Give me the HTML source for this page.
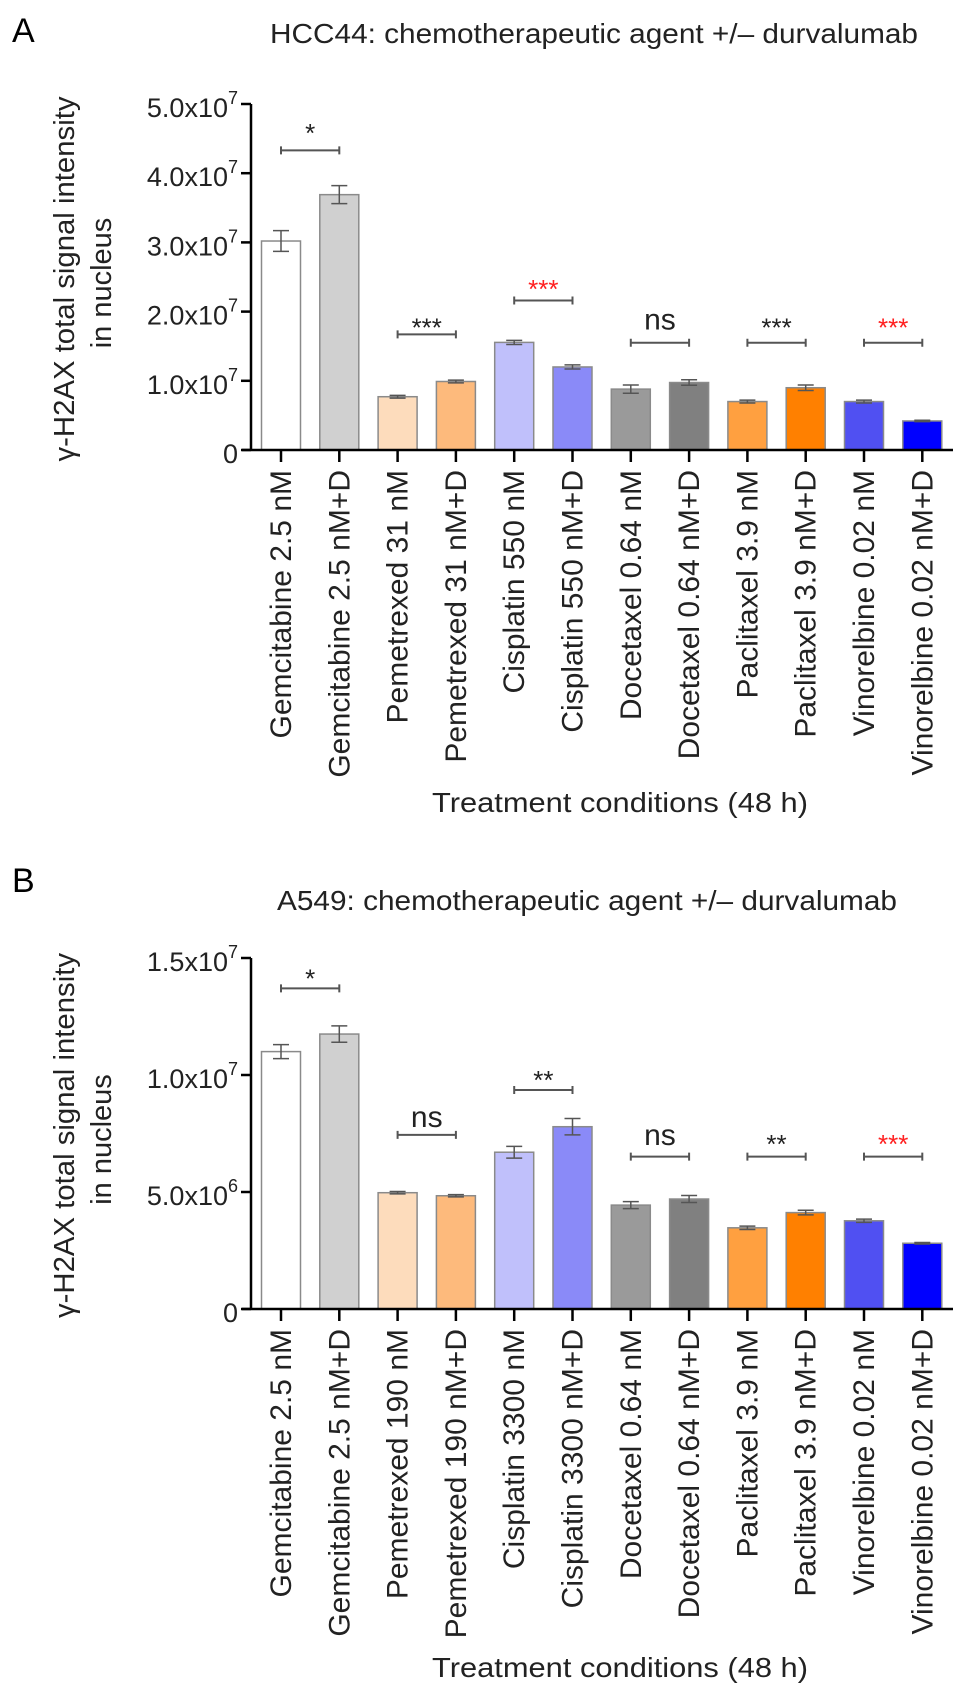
<!DOCTYPE html>
<html><head><meta charset="utf-8"><style>
body{margin:0;background:#fff}
svg{display:block;font-family:"Liberation Sans",Arial,sans-serif}
</style></head><body>
<svg id="fig" width="969" height="1702" viewBox="0 0 969 1702" xmlns="http://www.w3.org/2000/svg">
<text x="12" y="42" font-size="34">A</text>
<text x="270" y="43" font-size="28" textLength="648" lengthAdjust="spacingAndGlyphs" fill="#222">HCC44: chemotherapeutic agent +/– durvalumab</text>
<text x="12" y="892" font-size="34">B</text>
<text x="277" y="910" font-size="28" textLength="620" lengthAdjust="spacingAndGlyphs" fill="#222">A549: chemotherapeutic agent +/– durvalumab</text>
<g id="pa"></g>
<g id="pb"></g>
</svg>
<script>
const labelsA = ["Gemcitabine 2.5 nM","Gemcitabine 2.5 nM+D","Pemetrexed 31 nM","Pemetrexed 31 nM+D","Cisplatin 550 nM","Cisplatin 550 nM+D","Docetaxel 0.64 nM","Docetaxel 0.64 nM+D","Paclitaxel 3.9 nM","Paclitaxel 3.9 nM+D","Vinorelbine 0.02 nM","Vinorelbine 0.02 nM+D"];
const labelsB = ["Gemcitabine 2.5 nM","Gemcitabine 2.5 nM+D","Pemetrexed 190 nM","Pemetrexed 190 nM+D","Cisplatin 3300 nM","Cisplatin 3300 nM+D","Docetaxel 0.64 nM","Docetaxel 0.64 nM+D","Paclitaxel 3.9 nM","Paclitaxel 3.9 nM+D","Vinorelbine 0.02 nM","Vinorelbine 0.02 nM+D"];
const colors = ["#ffffff","#d0d0d0","#fddcbc","#fdba7c","#c0c0fb","#8a8af8","#9a9a9a","#808080","#ffa040","#ff8000","#5050f2","#0000ff"];
const valuesA = [3.02,3.69,0.77,0.99,1.555,1.20,0.88,0.975,0.70,0.90,0.70,0.42];
const errorsA = [0.15,0.13,0.02,0.02,0.03,0.03,0.06,0.04,0.02,0.04,0.02,0.01];
const valuesB = [11.0,11.75,4.97,4.84,6.70,7.79,4.44,4.70,3.47,4.12,3.77,2.81];
const errorsB = [0.3,0.35,0.05,0.05,0.25,0.35,0.15,0.15,0.07,0.1,0.07,0.03];
const ticksA = [0,1,2,3,4,5];
const tickTextA = ["0","1.0x10","2.0x10","3.0x10","4.0x10","5.0x10"];
const tickSupA = ["","7","7","7","7","7"];
const ticksB = [0,5,10,15];
const tickTextB = ["0","5.0x10","1.0x10","1.5x10"];
const tickSupB = ["","6","7","7"];
const sigTextA = ["*","***","***","ns","***","***"];
const sigColorA = ["#222","#222","#ff2020","#222","#222","#ff2020"];
const sigBarA = [4.33,1.67,2.16,1.55,1.55,1.55];
const sigLabelA = [4.67,1.855,2.41,1.74,1.855,1.855];
const sigTextB = ["*","ns","**","ns","**","***"];
const sigColorB = ["#222","#222","#222","#222","#222","#ff2020"];
const sigBarB = [13.7,7.44,9.36,6.51,6.51,6.51];
const sigLabelB = [14.38,7.78,10.04,7.0,7.3,7.3];

const NS="http://www.w3.org/2000/svg";
function mk(p,tag,at){const e=document.createElementNS(NS,tag);for(const k in at)e.setAttribute(k,at[k]);p.appendChild(e);return e;}

function draw(g,cfg){
  const x0=251,xEnd=953,step=58.3,c0=281,bw=39;
  const y=v=>cfg.yBase-(v/cfg.max)*(cfg.yBase-cfg.yTop);
  const cx=i=>c0+i*step;
  cfg.values.forEach((v,i)=>{
    const r=mk(g,'rect',{x:cx(i)-bw/2,y:y(v),width:bw,height:cfg.yBase-y(v),fill:colors[i],stroke:'#8a8a8a','stroke-width':1.5});
    
    
    const e=cfg.errors[i];
    const eb=mk(g,'path',{d:`M${cx(i)} ${y(v+e)}V${y(v-e)}M${cx(i)-8} ${y(v+e)}h16M${cx(i)-8} ${y(v-e)}h16`,stroke:'#555','stroke-width':1.5,fill:'none'});
    
    
    const tk=mk(g,'line',{x1:cx(i),x2:cx(i),y1:cfg.yBase,y2:cfg.yBase+12,stroke:'#000','stroke-width':2.5});
    
    
    const t=mk(g,'text',{x:0,y:0,'font-size':30,'text-anchor':'end',fill:'#222',transform:`translate(${cx(i)+10},${cfg.yBase+20}) rotate(-90)`});
    t.textContent=cfg.labels[i];
    
    
  });
  cfg.sigBar.forEach((v,k)=>{
    const a=cx(2*k),b=cx(2*k+1),yy=y(v);
    const br=mk(g,'path',{d:`M${a} ${yy}H${b}M${a} ${yy-4}v8M${b} ${yy-4}v8`,stroke:'#555','stroke-width':2,fill:'none'});
    
    
    const isNs=cfg.sigText[k]==='ns';
    const ty=isNs?y(cfg.sigLabel[k]):y(cfg.sigLabel[k])+15;
    const t=mk(g,'text',{x:(a+b)/2,y:ty,'font-size':isNs?30:26,'text-anchor':'middle',fill:cfg.sigColor[k]});
    t.textContent=cfg.sigText[k];
    
    
  });
  const ax=mk(g,'path',{d:`M${x0} ${cfg.yTop}V${cfg.yBase}M242 ${cfg.yBase}H${xEnd}`,stroke:'#000','stroke-width':2.5,fill:'none'});
  
  
  cfg.ticks.forEach((v,k)=>{
    const ty=y(v);
    const l=mk(g,'line',{x1:x0-10,x2:x0,y1:ty,y2:ty,stroke:'#000','stroke-width':2.5});
    
    
    const t=mk(g,'text',{x:238,y:ty+13,'font-size':27,'text-anchor':'end',fill:'#222'});
    
    
    const s1=mk(t,'tspan',{});s1.textContent=cfg.tickText[k];
    if(cfg.tickSup[k]){const s2=mk(t,'tspan',{'font-size':18,dy:-13});s2.textContent=cfg.tickSup[k];}
  });
  const mid=(cfg.yTop+cfg.yBase)/2;
  const t1=mk(g,'text',{x:0,y:0,'font-size':29,'text-anchor':'middle',fill:'#222',textLength:365,lengthAdjust:'spacingAndGlyphs',transform:`translate(74,${mid+2}) rotate(-90)`});
  t1.textContent='γ-H2AX total signal intensity';
  
  
  const t2=mk(g,'text',{x:0,y:0,'font-size':29,'text-anchor':'middle',fill:'#222',transform:`translate(111,${mid+6}) rotate(-90)`});
  t2.textContent='in nucleus';
  
  
  const xt=mk(g,'text',{x:432,y:cfg.xTitleY,'font-size':28,fill:'#222',textLength:376,lengthAdjust:'spacingAndGlyphs'});
  xt.textContent='Treatment conditions (48 h)';
  
  
}
draw(document.getElementById('pa'),{yTop:104,yBase:450,max:5,values:valuesA,errors:errorsA,labels:labelsA,ticks:ticksA,tickText:tickTextA,tickSup:tickSupA,sigText:sigTextA,sigColor:sigColorA,sigBar:sigBarA,sigLabel:sigLabelA,xTitleY:812});
draw(document.getElementById('pb'),{yTop:958,yBase:1309,max:15,values:valuesB,errors:errorsB,labels:labelsB,ticks:ticksB,tickText:tickTextB,tickSup:tickSupB,sigText:sigTextB,sigColor:sigColorB,sigBar:sigBarB,sigLabel:sigLabelB,xTitleY:1677});
</script>
</body></html>
